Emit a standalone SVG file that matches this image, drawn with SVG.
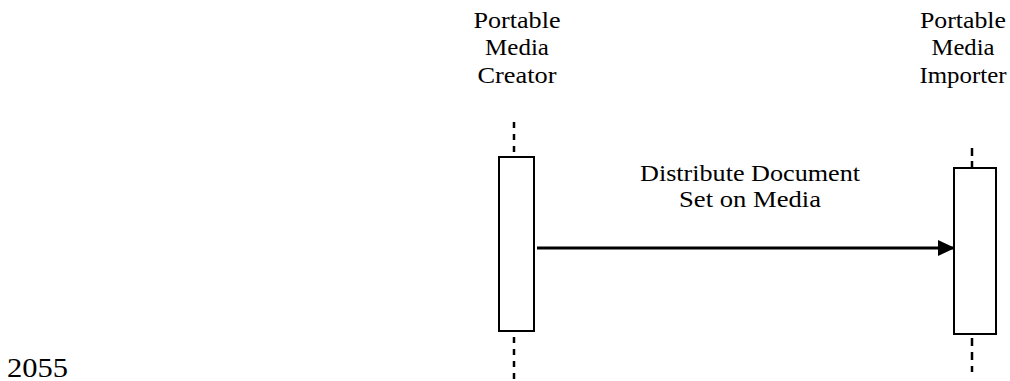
<svg xmlns="http://www.w3.org/2000/svg" width="1010" height="381" viewBox="0 0 1010 381">
<style>
text{font-family:"Liberation Serif","Times New Roman",serif;font-size:23px;fill:#000;}
.box{fill:#fff;stroke:#000;stroke-width:2;}
.life{stroke:#000;stroke-width:2.5;stroke-dasharray:6 6;fill:none;}
.msg{stroke:#000;stroke-width:3;fill:none;}
</style>
<defs>
<marker id="ah" markerUnits="userSpaceOnUse" markerWidth="18" markerHeight="18" refX="17" refY="8" orient="auto">
<path d="M0,0 L17,8 L0,16 Z" fill="#000"/>
</marker>
</defs>
<text x="7" y="377" style="font-size:27px" textLength="61" lengthAdjust="spacingAndGlyphs">2055</text>
<g id="creator">
<text x="517" y="28" text-anchor="middle" textLength="87" lengthAdjust="spacingAndGlyphs">Portable</text>
<text x="517" y="55" text-anchor="middle" textLength="64" lengthAdjust="spacingAndGlyphs">Media</text>
<text x="517" y="83" text-anchor="middle" textLength="79" lengthAdjust="spacingAndGlyphs">Creator</text>
<line class="life" x1="514" y1="122" x2="514" y2="156"/>
<rect class="box" x="499" y="157" width="35" height="174"/>
<line class="life" x1="514" y1="337" x2="514" y2="381"/>
</g>
<g id="importer">
<text x="963" y="28" text-anchor="middle" textLength="86" lengthAdjust="spacingAndGlyphs">Portable</text>
<text x="963" y="55" text-anchor="middle" textLength="63" lengthAdjust="spacingAndGlyphs">Media</text>
<text x="963" y="83" text-anchor="middle" textLength="87" lengthAdjust="spacingAndGlyphs">Importer</text>
<line class="life" x1="972" y1="148" x2="972" y2="168" style="stroke-dasharray:8 5"/>
<rect class="box" x="954" y="168" width="42" height="166"/>
<line class="life" x1="972" y1="338" x2="972" y2="372" style="stroke-dasharray:8 6"/>
</g>
<g id="connectors">
<line class="msg" x1="537" y1="248" x2="955" y2="248" marker-end="url(#ah)"/>
<text x="750" y="181" text-anchor="middle" textLength="220" lengthAdjust="spacingAndGlyphs">Distribute Document</text>
<text x="750" y="207" text-anchor="middle" textLength="142" lengthAdjust="spacingAndGlyphs">Set on Media</text>
</g>
</svg>
